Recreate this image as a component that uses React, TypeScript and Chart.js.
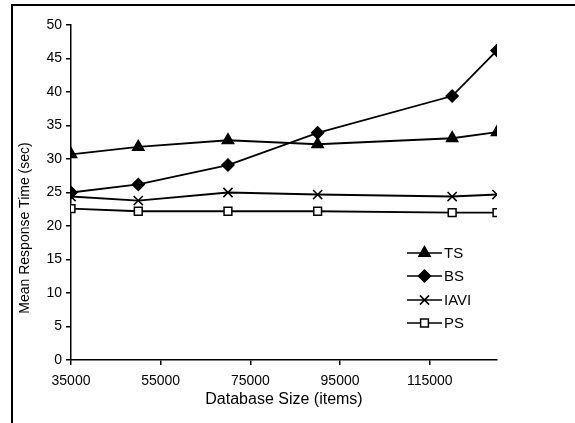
import React, { useEffect, useRef } from "react";
import { Chart, registerables } from "chart.js";

Chart.register(...registerables);

const sizes = [35000, 50000, 70000, 90000, 120000, 130000];
const xTickValues = [35000, 55000, 75000, 95000, 115000];
const tsValues = [30.7, 31.8, 32.8, 32.2, 33.1, 34.0];
const bsValues = [25.0, 26.2, 29.1, 33.9, 39.4, 46.2];
const iaviValues = [24.4, 23.8, 25.0, 24.7, 24.4, 24.7];
const psValues = [22.6, 22.2, 22.2, 22.2, 22.0, 22.0];
const seriesNames = ["TS", "BS", "IAVI", "PS"];
const xTitle = "Database Size (items)";
const yTitle = "Mean Response Time (sec)";

const FONT = "'Liberation Sans', Arial, sans-serif";

function drawMarker(ctx: CanvasRenderingContext2D, style: string, r: number, x: number, y: number, fill: string) {
  ctx.fillStyle = fill;
  ctx.strokeStyle = "#000";
  ctx.lineWidth = 1.5;
  ctx.beginPath();
  if (style === "triangle") {
    ctx.moveTo(x, y - r);
    ctx.lineTo(x + r * 0.866, y + r * 0.5);
    ctx.lineTo(x - r * 0.866, y + r * 0.5);
    ctx.closePath();
    ctx.fill();
    ctx.stroke();
  } else if (style === "rectRot") {
    ctx.moveTo(x, y - r);
    ctx.lineTo(x + r, y);
    ctx.lineTo(x, y + r);
    ctx.lineTo(x - r, y);
    ctx.closePath();
    ctx.fill();
    ctx.stroke();
  } else if (style === "crossRot") {
    const d = r * 0.707;
    ctx.moveTo(x - d, y - d);
    ctx.lineTo(x + d, y + d);
    ctx.moveTo(x + d, y - d);
    ctx.lineTo(x - d, y + d);
    ctx.stroke();
  } else {
    const d = r * 0.707;
    ctx.rect(x - d, y - d, 2 * d, 2 * d);
    ctx.fill();
    ctx.stroke();
  }
}

const legendPlugin = {
  id: "insideLegend",
  afterDraw(chart: any) {
    const ctx = chart.ctx;
    const x0 = 407;
    const x1 = 442;
    const ys = [253, 276, 300, 323];
    chart.data.datasets.forEach((ds: any, i: number) => {
      const y = ys[i];
      ctx.save();
      ctx.strokeStyle = "#000";
      ctx.lineWidth = 1.5;
      ctx.beginPath();
      ctx.moveTo(x0, y);
      ctx.lineTo(x1, y);
      ctx.stroke();
      drawMarker(ctx, ds.pointStyle, ds.pointRadius, (x0 + x1) / 2, y, ds.pointBackgroundColor);
      ctx.restore();
      ctx.save();
      ctx.fillStyle = "#000";
      ctx.font = `15px ${FONT}`;
      ctx.textBaseline = "middle";
      ctx.textAlign = "left";
      ctx.fillText(ds.label, x1 + 2, y + 1);
      ctx.restore();
    });
    // y-axis title
    ctx.save();
    ctx.translate(25, 228);
    ctx.rotate(-Math.PI / 2);
    ctx.fillStyle = "#000";
    ctx.font = `14px ${FONT}`;
    ctx.textAlign = "center";
    ctx.textBaseline = "middle";
    ctx.fillText(yTitle, 0, 0);
    ctx.restore();
  },
};

function makeDs(label: string, data: number[], style: string, radius: number, fill: string) {
  return {
    label,
    data: sizes.map((x, i) => ({ x, y: data[i] })),
    borderColor: "#000",
    borderWidth: 1.8,
    pointStyle: style,
    pointRadius: radius,
    pointBackgroundColor: fill,
    pointBorderColor: "#000",
    pointBorderWidth: 1.5,
    backgroundColor: fill,
    tension: 0,
  };
}

export default function App() {
  const ref = useRef<HTMLCanvasElement | null>(null);
  useEffect(() => {
    if (!ref.current) return;
    const chart = new Chart(ref.current, {
      type: "line",
      data: {
        datasets: [
          makeDs(seriesNames[0], tsValues, "triangle", 6.5, "#000"),
          makeDs(seriesNames[1], bsValues, "rectRot", 6, "#000"),
          makeDs(seriesNames[2], iaviValues, "crossRot", 6.5, "#000"),
          makeDs(seriesNames[3], psValues, "rect", 5.5, "#fff"),
        ],
      },
      options: {
        animation: false,
        responsive: false,
        maintainAspectRatio: false,
        layout: { padding: { left: 14, top: 25, right: 78, bottom: 14 } },
        plugins: { legend: { display: false }, tooltip: { enabled: false } },
        scales: {
          x: {
            type: "linear",
            min: 35000,
            max: 130000,
            afterBuildTicks: (scale: any) => {
              scale.ticks = xTickValues.map((v) => ({ value: v }));
            },
            border: { color: "#000", width: 1.5 },
            grid: { display: true, drawOnChartArea: false, color: "#000", tickLength: 5, lineWidth: 1.5 },
            ticks: { color: "#000", font: { family: FONT, size: 14 }, padding: 8, maxRotation: 0, autoSkip: false, callback: (v: any) => String(v) },
            title: { display: true, text: xTitle, color: "#000", font: { family: FONT, size: 16 }, padding: { top: -8, bottom: 0 } },
          },
          y: {
            min: 0,
            max: 50,
            afterFit: (scale: any) => {
              scale.width = 57;
            },
            border: { color: "#000", width: 1.5 },
            grid: { display: true, drawOnChartArea: false, color: "#000", tickLength: 5, lineWidth: 1.5 },
            ticks: { color: "#000", font: { family: FONT, size: 14 }, stepSize: 5, padding: 4 },
            title: { display: false },
          },
        },
      },
      plugins: [legendPlugin],
    });
    return () => chart.destroy();
  }, []);
  return (
    <div style={{ position: "fixed", left: 0, top: 0, width: 575, height: 423, overflow: "hidden", background: "#fff" }}>
      <div style={{ position: "absolute", left: 11, top: 4, width: 600, height: 500, borderLeft: "2px solid #000", borderTop: "2px solid #000" }} />
      <canvas ref={ref} width={575} height={423} style={{ position: "absolute", left: 0, top: 0, width: 575, height: 423 }} />
    </div>
  );
}
